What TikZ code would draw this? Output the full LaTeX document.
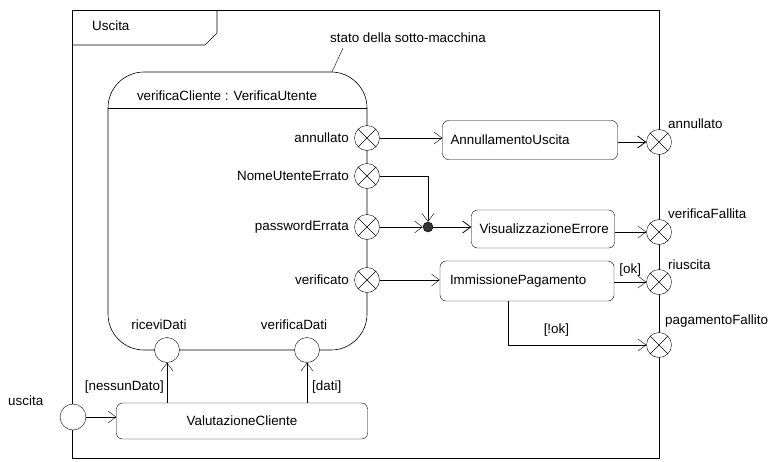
\documentclass[tikz,border=0pt]{standalone}
\usepackage{fontspec}
\setmainfont{Liberation Sans}
\usetikzlibrary{arrows.meta}
\begin{document}
\begin{tikzpicture}[x=1pt,y=-1pt,
  every node/.style={font=\fontsize{13.4}{15}\selectfont},
  txt/.style={inner sep=0pt},
  exitpt/.style={circle,draw,fill=white,minimum size=25pt,inner sep=0pt,
    path picture={\draw (path picture bounding box.north west)--(path picture bounding box.south east)
                        (path picture bounding box.north east)--(path picture bounding box.south west);}},
  entrypt/.style={circle,draw,fill=white,minimum size=25pt,inner sep=0pt},
  action/.style={draw,rounded corners=6pt,inner sep=0pt},
  laction/.style={action,inner xsep=8pt,align=left},
  junct/.style={circle,fill=black!80,draw,minimum size=10pt,inner sep=0pt},
  flow/.style={-{Straight Barb[length=8pt,width=12pt]}},
  lbl/.style={inner sep=0pt}
]
\useasboundingbox (0,0) rectangle (770,461);

% outer frame
\draw[line width=0.6pt] (72,10) rectangle (659,458);
\draw[line width=0.6pt] (72,45) -- (205,45) -- (217,33) -- (217,10);
\node[txt,anchor=west] (fname) at (92,26) {Uscita};

% sub-machine state
\draw[line width=0.6pt,rounded corners=36pt] (108,72) rectangle (367,350);
\draw[line width=0.6pt] (108,108) -- (367,108);
\node[txt] (smtitle) at (227,96) {verificaCliente : VerificaUtente};
\node[txt,anchor=west] (note) at (330,38) {stato della sotto-macchina};
\coordinate (notetip) at (332,72);
\coordinate (notefrom) at (343,48);
\draw (notefrom) -- (notetip);

% exit points on sub-machine
\node[exitpt] (xann) at (367,138) {};
\node[exitpt] (xnome) at (367,176) {};
\node[exitpt] (xpwd) at (367,227) {};
\node[exitpt] (xver) at (367,280) {};
\node[txt,anchor=east] (lann) at (349,138) {annullato};
\node[txt,anchor=east] (lnome) at (349,176) {NomeUtenteErrato};
\node[txt,anchor=east] (lpwd) at (349,227) {passwordErrata};
\node[txt,anchor=east] (lver) at (349,280) {verificato};

% entry points on sub-machine
\node[entrypt] (ericevi) at (167,350) {};
\node[entrypt] (everif) at (307,350) {};
\node[txt] (lricevi) at (159,325) {riceviDati};
\node[txt] (lverif) at (294,325) {verificaDati};

% actions
\node[laction,text width=159pt,minimum height=39pt] (annU) at (530,140) {AnnullamentoUscita};
\node[laction,text width=127pt,minimum height=38pt] (visE) at (543,229) {VisualizzazioneErrore};
\node[laction,inner xsep=10pt,text width=154pt,minimum height=40pt] (immP) at (527,281) {ImmissionePagamento};
\node[action,minimum width=251pt,minimum height=36pt] (valC) at (242,421) {ValutazioneCliente};
\node[junct] (jn) at (428,227) {};

% exit points on frame
\node[exitpt] (oann) at (659,142) {};
\node[exitpt] (ofall) at (659,232) {};
\node[exitpt] (oriu) at (659,282) {};
\node[exitpt] (opag) at (659,345) {};
\node[txt,anchor=west] (loann) at (668,124) {annullato};
\node[txt,anchor=west] (lofall) at (668,214) {verificaFallita};
\node[txt,anchor=west] (loriu) at (668,265) {riuscita};
\node[txt,anchor=west] (lopag) at (665,321) {pagamentoFallito};

% entry point on frame
\node[entrypt,minimum size=26pt] (inusc) at (73,417) {};
\node[txt,anchor=west] (linusc) at (8,401) {uscita};

% connectors
\draw[flow] (xann.east) -- (xann.east -| annU.west);
\draw[flow,thick] (annU.east |- oann) -- (oann.west);
\draw[flow] (xnome.east) -- (xnome.east -| jn) -- (jn.north);
\draw[flow] (xpwd.east) -- (xpwd.east -| jn.west);
\draw[flow,thick] (jn.east) -- (jn.east -| visE.west);
\draw[flow] (visE.east |- ofall) -- (ofall.west);
\draw[flow] (xver.east) -- (xver.east -| immP.west);
\draw[flow] (immP.east |- oriu) -- node[lbl,above=6pt,pos=0.5] (lok) {[ok]} (oriu.west);
\coordinate (immbot) at (508,0);
\draw[flow] (immbot |- immP.south) -- (immbot |- opag) -- node[lbl,above=9pt,pos=0.35] (lnok) {[!ok]} (opag.west);
\draw[flow] (inusc.east) -- (inusc.east -| valC.west);
\draw[flow] (ericevi |- valC.north) -- node[lbl,left=3pt,pos=0.4] (lnes) {[nessunDato]} (ericevi.south);
\draw[flow] (everif |- valC.north) -- node[lbl,right=5pt,pos=0.4] (ldati) {[dati]} (everif.south);
\end{tikzpicture}
\end{document}
